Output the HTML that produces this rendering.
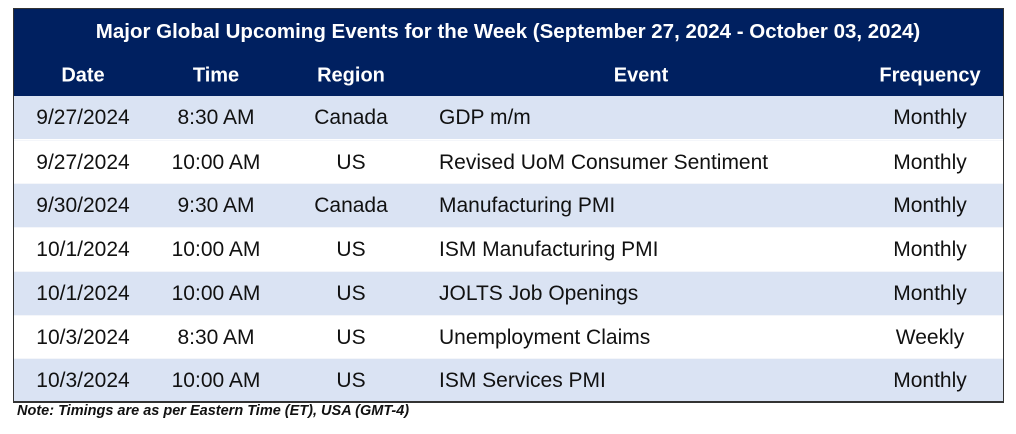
<!DOCTYPE html>
<html><head><meta charset="utf-8"><style>
body{margin:0;width:1016px;height:434px;background:#fff;font-family:"Liberation Sans",sans-serif;position:relative;overflow:hidden}
#tbl{position:absolute;left:13px;top:8px;width:989px;height:393px;border:1px solid #333;box-sizing:content-box;background:#fff;overflow:hidden}
.hdr{position:absolute;left:0;top:0;width:989px;height:87px;background:#002060}
.row{position:absolute;left:0;width:989px;height:43px}
.t{position:absolute;transform:translate(-50%,-50%);white-space:nowrap;font-size:21px;color:#111}
.l{position:absolute;transform:translateY(-50%);white-space:nowrap;font-size:21px;color:#111}
.h{color:#fff;font-weight:bold;font-size:20px}
</style></head><body>
<div id="tbl">
<div class="hdr">
<div class="t h" style="left:494px;top:23px;font-size:20.5px">Major Global Upcoming Events for the Week (September 27, 2024 - October 03, 2024)</div>
<div class="t h" style="left:69px;top:67px">Date</div>
<div class="t h" style="left:202px;top:67px">Time</div>
<div class="t h" style="left:337px;top:67px">Region</div>
<div class="t h" style="left:627px;top:67px">Event</div>
<div class="t h" style="left:916px;top:67px">Frequency</div>
</div>
<div id="rows"></div>
</div>
<div style="position:absolute;left:13px;top:401px;width:991px;height:2px;background:#333"></div>
<div style="position:absolute;left:17px;top:403px;font-size:14.5px;font-weight:bold;font-style:italic;color:#111">Note: Timings are as per Eastern Time (ET), USA (GMT-4)</div>
<script>
const dates=["9/27/2024","9/27/2024","9/30/2024","10/1/2024","10/1/2024","10/3/2024","10/3/2024"];
const times=["8:30 AM","10:00 AM","9:30 AM","10:00 AM","10:00 AM","8:30 AM","10:00 AM"];
const regions=["Canada","US","Canada","US","US","US","US"];
const events=["GDP m/m","Revised UoM Consumer Sentiment","Manufacturing PMI","ISM Manufacturing PMI","JOLTS Job Openings","Unemployment Claims","ISM Services PMI"];
const freqs=["Monthly","Monthly","Monthly","Monthly","Monthly","Weekly","Monthly"];
const c=document.getElementById('rows');
dates.forEach((d,i)=>{
 const r=document.createElement('div');
 r.className='row';
 
 
 r.style.top=(87+i*43.7)+'px';
 r.style.background=i%2===0?'#dae3f3':'#fff';
 if(i>0)r.style.borderTop='1px solid #f4f6fa';
 const cells=[[d,69,'t','date-cell'],[times[i],202,'t','time-cell'],[regions[i],337,'t','region-cell'],[events[i],425,'l','event-cell'],[freqs[i],916,'t','frequency-cell']];
 cells.forEach(([txt,x,cls,nm])=>{
  const e=document.createElement('div');
  e.className=cls;
  
  
  e.style.left=x+'px';e.style.top='22px';e.textContent=txt;r.appendChild(e);
 });
 c.appendChild(r);
});
</script>
</body></html>
